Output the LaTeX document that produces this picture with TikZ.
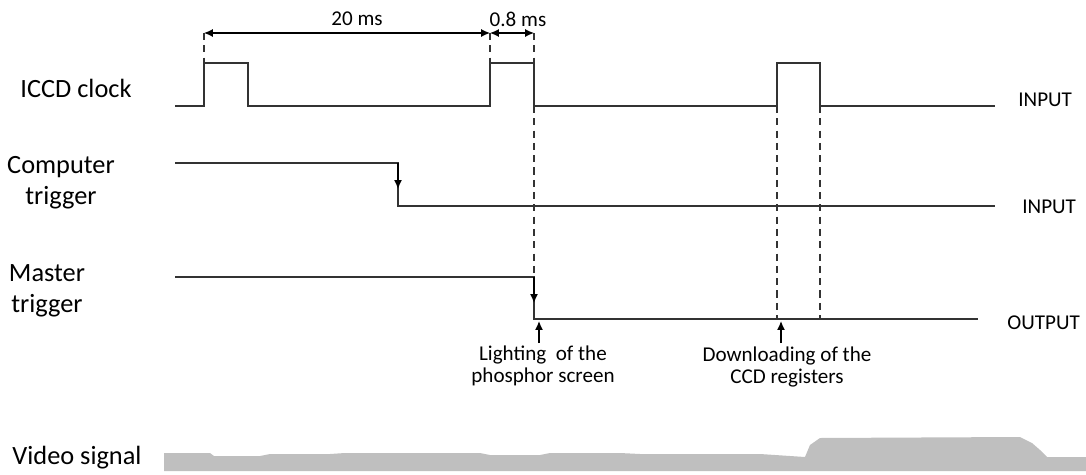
\documentclass[tikz,border=0pt]{standalone}
\usepackage{fontspec}
\setmainfont{Carlito}
\usetikzlibrary{arrows.meta,positioning}
\definecolor{videogray}{RGB}{191,191,191}

\begin{document}
\begin{tikzpicture}[
    x=0.02cm, y=-0.02cm,
    >={Latex[length=5pt,width=4.5pt]},
    sig/.style={line width=0.9pt, color=black!80},
    guide/.style={dash pattern=on 4pt off 3pt, line width=0.6pt, color=black!80},
    dim/.style={<->, line width=0.7pt},
    pointer/.style={->, line width=0.8pt},
    siglabel/.style={font=\fontsize{15}{17.6}\selectfont, align=center},
    note/.style={font=\fontsize{12}{12.5}\selectfont, align=center},
    iolabel/.style={font=\fontsize{12}{14}\selectfont, anchor=west, inner sep=0pt}
]
    \useasboundingbox (0,0) rectangle (1086,474);

    % signal names
    \node[siglabel] (iccd) at (76,88) {ICCD clock};
    \node[siglabel] (comp) at (61,183) {Computer\\trigger};
    \node[siglabel] (master) at (47,291) {Master\\trigger};
    \node[siglabel] (video) at (77,458) {Video signal};

    % ICCD clock
    \draw[sig] (175,106) -- (204,106) -- (204,63) -- (248,63) -- (248,106)
        -- (490,106) -- (490,63) -- (534,63) -- (534,106)
        -- (777,106) -- (777,63) -- (820,63) -- (820,106) -- (995,106);
    \node[iolabel] (in1) at (1018,100) {INPUT};

    % computer trigger
    \draw[sig] (175,163) -- (398,163) -- (398,206) -- (995,206);
    \draw[pointer] (398,163) -- (398,189);
    \node[iolabel] (in2) at (1022,207) {INPUT};

    % master trigger
    \draw[sig] (175,277) -- (534,277) -- (534,319) -- (978,319);
    \draw[pointer] (534,277) -- (534,303);
    \node[iolabel] (out) at (1007,323) {OUTPUT};

    % timing marks
    \coordinate (t0) at (204,33);
    \coordinate (t1) at (490,33);
    \coordinate (t2) at (534,33);
    \draw[guide] (t0) -- (204,63);
    \draw[guide] (t1) -- (490,63);
    \draw[guide] (t2) -- (534,63);
    \draw[guide] (534,106) -- (534,277);
    \draw[guide] (777,106) -- (777,319);
    \draw[guide] (820,106) -- (820,319);
    \draw[dim] (t0) -- (t1);
    \draw[dim] (t1) -- (t2);
    \node[note] (d20) at (357,19) {20 ms};
    \node[note] (d08) at (518,19) {0.8 ms};

    % events
    \node[note] (light) at (543,366) {Lighting~ of the\\phosphor screen};
    \node[note] (dl) at (787,367) {Downloading of the\\CCD registers};
    \coordinate (lit) at (539,321);
    \coordinate (ccd) at (781,321);
    \draw[pointer] (539,343) -- (lit);
    \draw[pointer] (781,343) -- (ccd);

    % video signal
    \fill[videogray] (164,471) -- (164,453) -- (210,453) -- (214,456) -- (260,456)
        -- (270,454) -- (330,454) -- (345,453) -- (480,453) -- (490,455)
        -- (540,455) -- (550,453) -- (620,453) -- (640,454) -- (760,454)
        -- (805,457) -- (810,445) -- (820,438) -- (1020,437) -- (1032,443)
        -- (1040,450) -- (1047,457) -- (1086,457) -- (1086,471) -- cycle;
\end{tikzpicture}
\end{document}
